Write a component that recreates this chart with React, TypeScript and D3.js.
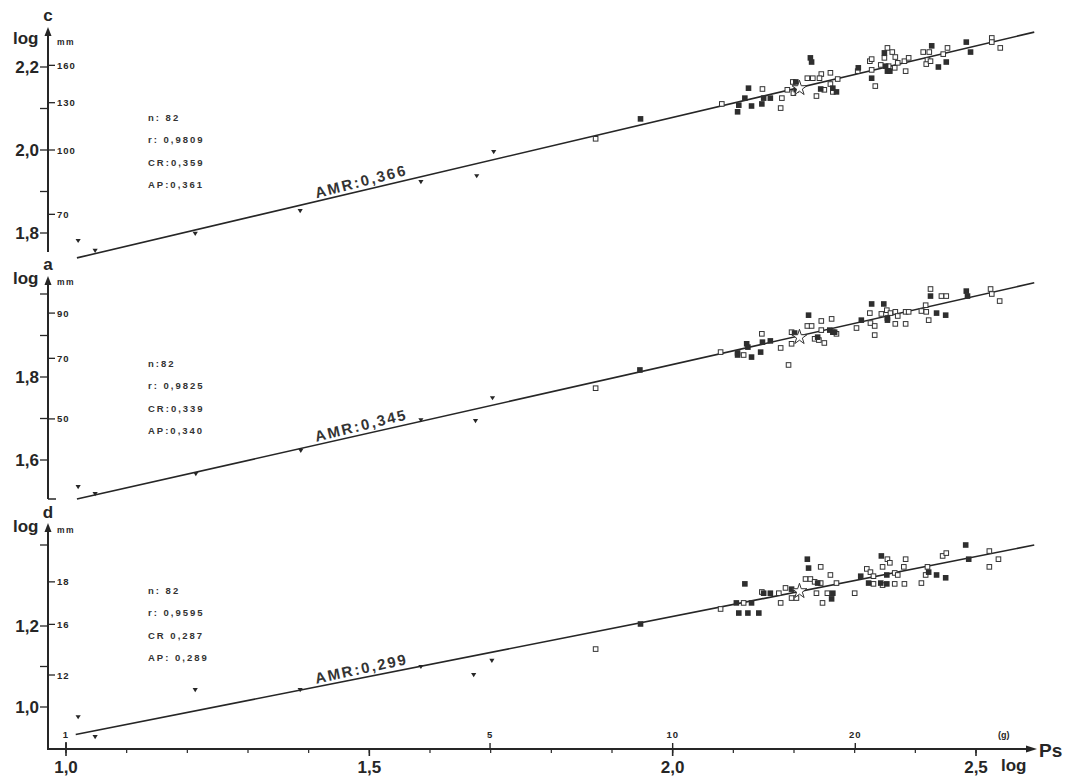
import React, { useEffect, useRef } from "react";
import * as d3 from "d3";

// x = log Ps, y = log of the measure (panels c, a, d)
const openC = [[2.081,2.111],[2.148,2.147],[2.180,2.125],[2.178,2.101],[2.189,2.145],[2.198,2.164],[2.199,2.137],[2.222,2.173],[2.231,2.173],[2.245,2.183],[2.242,2.173],[2.250,2.145],[2.237,2.130],[2.260,2.186],[2.260,2.159],[2.264,2.140],[2.272,2.171],[2.305,2.190],[2.325,2.214],[2.328,2.219],[2.328,2.193],[2.334,2.154],[2.343,2.205],[2.354,2.246],[2.349,2.222],[2.362,2.236],[2.367,2.224],[2.356,2.202],[2.366,2.198],[2.371,2.210],[2.382,2.214],[2.389,2.222],[2.384,2.190],[2.413,2.236],[2.423,2.236],[2.420,2.217],[2.418,2.207],[2.425,2.214],[2.446,2.231],[2.453,2.246],[2.526,2.270],[2.526,2.260],[2.540,2.246],[1.873,2.027]];
const filledC = [[2.109,2.108],[2.107,2.092],[2.119,2.125],[2.125,2.149],[2.130,2.106],[2.147,2.111],[2.150,2.125],[2.161,2.125],[2.203,2.164],[2.204,2.145],[2.227,2.222],[2.229,2.212],[2.244,2.147],[2.264,2.149],[2.270,2.140],[2.306,2.198],[2.328,2.173],[2.349,2.234],[2.351,2.202],[2.354,2.190],[2.358,2.190],[2.427,2.251],[2.438,2.200],[2.451,2.212],[2.484,2.260],[2.491,2.236],[1.947,2.075]];
const trianglesC = [[1.020,1.781],[1.048,1.757],[1.213,1.798],[1.386,1.853],[1.585,1.923],[1.677,1.937],[1.705,1.995]];
const starC = [2.209, 2.149];
const lineC = [[1.018,1.740],[2.596,2.284]];
const statsC = ["n: 82", "r: 0,9809", "CR:0,359", "AP:0,361"];
const amrC = "AMR:0,366";

const openA = [[2.079,1.860],[2.117,1.853],[2.147,1.904],[2.178,1.870],[2.196,1.880],[2.191,1.829],[2.196,1.908],[2.222,1.923],[2.229,1.923],[2.245,1.935],[2.262,1.940],[2.245,1.913],[2.234,1.892],[2.250,1.882],[2.241,1.889],[2.270,1.904],[2.303,1.918],[2.325,1.954],[2.326,1.930],[2.333,1.923],[2.333,1.901],[2.344,1.952],[2.353,1.961],[2.359,1.954],[2.367,1.957],[2.371,1.947],[2.367,1.928],[2.384,1.928],[2.384,1.957],[2.389,1.957],[2.410,1.959],[2.417,1.973],[2.418,1.957],[2.422,1.937],[2.425,2.012],[2.443,1.995],[2.451,1.995],[2.524,2.012],[2.526,2.000],[2.539,1.983],[1.873,1.773]];
const filledA = [[2.107,1.858],[2.107,1.853],[2.122,1.880],[2.124,1.872],[2.130,1.848],[2.145,1.860],[2.148,1.884],[2.161,1.887],[2.201,1.906],[2.224,1.949],[2.239,1.896],[2.259,1.913],[2.264,1.908],[2.267,1.908],[2.311,1.937],[2.328,1.976],[2.348,1.976],[2.354,1.942],[2.354,1.937],[2.435,1.954],[2.450,1.949],[2.425,1.995],[2.484,2.007],[2.486,1.995],[1.946,1.817]];
const trianglesA = [[1.020,1.535],[1.048,1.518],[1.214,1.566],[1.387,1.622],[1.585,1.696],[1.675,1.694],[1.703,1.749]];
const starA = [2.209, 1.896];
const lineA = [[1.018,1.506],[2.596,2.027]];
const statsA = ["n:82", "r: 0,9825", "CR:0,339", "AP:0,340"];
const amrA = "AMR:0,345";

const openD = [[2.079,1.242],[2.117,1.257],[2.147,1.284],[2.175,1.281],[2.178,1.257],[2.186,1.294],[2.196,1.269],[2.204,1.269],[2.244,1.346],[2.219,1.316],[2.227,1.316],[2.234,1.309],[2.244,1.306],[2.237,1.281],[2.260,1.326],[2.255,1.281],[2.247,1.257],[2.270,1.306],[2.300,1.281],[2.320,1.341],[2.326,1.333],[2.331,1.323],[2.331,1.304],[2.346,1.301],[2.366,1.304],[2.382,1.304],[2.354,1.365],[2.358,1.356],[2.346,1.346],[2.366,1.331],[2.371,1.326],[2.384,1.365],[2.381,1.346],[2.410,1.306],[2.417,1.326],[2.420,1.346],[2.445,1.373],[2.451,1.380],[2.522,1.385],[2.522,1.346],[2.537,1.365],[1.873,1.143]];
const filledD = [[2.105,1.257],[2.130,1.257],[2.109,1.232],[2.124,1.232],[2.142,1.232],[2.119,1.304],[2.150,1.281],[2.161,1.281],[2.196,1.291],[2.222,1.365],[2.224,1.343],[2.239,1.306],[2.264,1.281],[2.262,1.267],[2.310,1.323],[2.323,1.306],[2.343,1.306],[2.353,1.304],[2.344,1.373],[2.353,1.326],[2.422,1.333],[2.435,1.326],[2.450,1.319],[2.483,1.400],[2.488,1.365],[1.947,1.205]];
const trianglesD = [[1.020,0.975],[1.048,0.926],[1.213,1.042],[1.386,1.042],[1.585,1.099],[1.672,1.079],[1.702,1.114]];
const starD = [2.209, 1.286];
const lineD = [[1.016,0.932],[2.596,1.400]];
const statsD = ["n: 82", "r: 0,9595", "CR 0,287", "AP: 0,289"];
const amrD = "AMR:0,299";

// y axis ticks: log ticks (left), labelled ones, mm ticks (right) at their log position
const logTicksC = [1.8, 1.9, 2.0, 2.1, 2.2];
const logLabelsC = [1.8, 2.0, 2.2];
const mmC = [[160, 2.204], [130, 2.114], [100, 2.0], [70, 1.845]];
const logTicksA = [1.6, 1.7, 1.8, 1.9, 2.0];
const logLabelsA = [1.6, 1.8];
const mmA = [[90, 1.954], [70, 1.845], [50, 1.699]];
const logTicksD = [1.0, 1.1, 1.2, 1.4];
const logLabelsD = [1.0, 1.2];
const mmD = [[18, 1.309], [16, 1.204], [12, 1.079]];

// x axis
const xMajor = [1.0, 1.5, 2.0, 2.5];
const xMinor = d3.range(10, 26).map((i) => i / 10);
const grams = [1, 5, 10, 20];

const ink = "#262626";
const font = "'Liberation Sans', Arial, sans-serif";
const comma = (v: number) => v.toFixed(1).replace(".", ",");

export default function App() {
  const ref = useRef<SVGSVGElement>(null);

  useEffect(() => {
    const svg = d3.select(ref.current);
    svg.selectAll("*").remove();

    const x = d3.scaleLinear().domain([1, 2.5]).range([66, 976]);
    const axisX = 48;
    const baseY = 749;

    const panels = [
      { key: "c", open: openC, filled: filledC, tri: trianglesC, star: starC, line: lineC, stats: statsC, amr: amrC,
        y: d3.scaleLinear().domain([1.8, 2.2]).range([233, 67]), ticks: logTicksC, labels: logLabelsC, mm: mmC,
        top: 27, bottom: 252, letterY: 21, logY: 44, statsY: 121 },
      { key: "a", open: openA, filled: filledA, tri: trianglesA, star: starA, line: lineA, stats: statsA, amr: amrA,
        y: d3.scaleLinear().domain([1.6, 1.8]).range([460, 377]), ticks: logTicksA, labels: logLabelsA, mm: mmA,
        top: 276, bottom: 499, letterY: 270, logY: 284, statsY: 367 },
      { key: "d", open: openD, filled: filledD, tri: trianglesD, star: starD, line: lineD, stats: statsD, amr: amrD,
        y: d3.scaleLinear().domain([1.0, 1.2]).range([707, 626]), ticks: logTicksD, labels: logLabelsD, mm: mmD,
        top: 523, bottom: baseY, letterY: 518, logY: 532, statsY: 594 },
    ];

    panels.forEach((p) => {
      const g = svg.append("g");
      const y = p.y;

      // y axis with arrow
      g.append("line").attr("x1", axisX).attr("x2", axisX).attr("y1", p.top + 6).attr("y2", p.bottom)
        .attr("stroke", ink).attr("stroke-width", 2);
      g.append("path").attr("d", `M${axisX},${p.top} L${axisX - 3.5},${p.top + 9} L${axisX + 3.5},${p.top + 9} Z`)
        .attr("fill", ink);
      if (p.key === "a") {
        g.append("line").attr("x1", axisX).attr("x2", axisX + 8).attr("y1", p.bottom).attr("y2", p.bottom)
          .attr("stroke", ink).attr("stroke-width", 1.5);
      }

      g.selectAll(".lt").data(p.ticks).enter().append("line")
        .attr("x1", axisX - 8).attr("x2", axisX).attr("y1", (d) => y(d)).attr("y2", (d) => y(d))
        .attr("stroke", ink).attr("stroke-width", 1.3);
      g.selectAll(".ll").data(p.labels).enter().append("text")
        .attr("x", axisX - 9).attr("y", (d) => y(d) + 6).attr("text-anchor", "end")
        .attr("font-family", font).attr("font-weight", "bold").attr("font-size", 17).attr("fill", ink)
        .text((d) => comma(d));
      g.selectAll(".mt").data(p.mm).enter().append("line")
        .attr("x1", axisX).attr("x2", axisX + 7).attr("y1", (d) => y(d[1])).attr("y2", (d) => y(d[1]))
        .attr("stroke", ink).attr("stroke-width", 1.3);
      g.selectAll(".ml").data(p.mm).enter().append("text")
        .attr("x", axisX + 9).attr("y", (d) => y(d[1]) + 3.5)
        .attr("font-family", font).attr("font-weight", "bold").attr("font-size", 9.5)
        .attr("letter-spacing", 1).attr("fill", ink)
        .text((d) => d[0]);

      // titles
      g.append("text").attr("x", axisX).attr("y", p.letterY).attr("text-anchor", "middle")
        .attr("font-family", font).attr("font-weight", "bold").attr("font-size", 17).attr("fill", ink).text(p.key);
      g.append("text").attr("x", 13).attr("y", p.logY)
        .attr("font-family", font).attr("font-weight", "bold").attr("font-size", 17).attr("fill", ink).text("log");
      g.append("text").attr("x", 57).attr("y", p.logY + 1)
        .attr("font-family", font).attr("font-weight", "bold").attr("font-size", 8.5)
        .attr("letter-spacing", 1.5).attr("fill", ink).text("mm");

      // stats
      g.selectAll(".st").data(p.stats).enter().append("text")
        .attr("x", 148).attr("y", (d, i) => p.statsY + i * 22.3)
        .attr("font-family", font).attr("font-weight", "bold").attr("font-size", 9.5)
        .attr("letter-spacing", 2).attr("fill", "#333")
        .text((d) => d);

      // regression line
      const line = d3.line<number[]>().x((d) => x(d[0])).y((d) => y(d[1]));
      g.append("path").attr("d", line(p.line)).attr("fill", "none").attr("stroke", ink).attr("stroke-width", 1.6);

      const [p0, p1] = p.line;
      const ang = (Math.atan2(y(p1[1]) - y(p0[1]), x(p1[0]) - x(p0[0])) * 180) / Math.PI;
      const lx = 1.49;
      const ly = p0[1] + ((p1[1] - p0[1]) * (lx - p0[0])) / (p1[0] - p0[0]);
      g.append("text")
        .attr("transform", `translate(${x(lx)},${y(ly)}) rotate(${ang - 1}) translate(0,-4)`)
        .attr("text-anchor", "middle").attr("font-family", font).attr("font-weight", "bold")
        .attr("font-size", 15).attr("letter-spacing", 2).attr("fill", "#333").text(p.amr);

      // points
      const s = 4.6;
      g.selectAll(".tri").data(p.tri).enter().append("path")
        .attr("d", (d) => {
          const cx = x(d[0]), cy = y(d[1]);
          return `M${cx - 2.6},${cy - 2} L${cx + 2.6},${cy - 2} L${cx},${cy + 2.2} Z`;
        })
        .attr("fill", ink);
      g.selectAll(".op").data(p.open).enter().append("rect")
        .attr("x", (d) => x(d[0]) - s / 2).attr("y", (d) => y(d[1]) - s / 2)
        .attr("width", s).attr("height", s)
        .attr("fill", "white").attr("stroke", "#333").attr("stroke-width", 1);
      g.selectAll(".fi").data(p.filled).enter().append("rect")
        .attr("x", (d) => x(d[0]) - s / 2 - 0.5).attr("y", (d) => y(d[1]) - s / 2 - 0.5)
        .attr("width", s + 1).attr("height", s + 1)
        .attr("fill", "#2e2e2e");
      g.append("path")
        .attr("d", d3.symbol(d3.symbolStar, 70)())
        .attr("transform", `translate(${x(p.star[0])},${y(p.star[1])})`)
        .attr("fill", "white").attr("stroke", "#333").attr("stroke-width", 1);
    });

    // x axis
    const xa = svg.append("g");
    xa.append("line").attr("x1", axisX - 1).attr("x2", 1030).attr("y1", baseY).attr("y2", baseY)
      .attr("stroke", ink).attr("stroke-width", 2);
    xa.append("path").attr("d", `M1037,${baseY} L1026,${baseY - 3.5} L1026,${baseY + 3.5} Z`).attr("fill", ink);
    xa.selectAll(".xm").data(xMinor).enter().append("line")
      .attr("x1", (d) => x(d)).attr("x2", (d) => x(d)).attr("y1", baseY).attr("y2", baseY + 4)
      .attr("stroke", ink).attr("stroke-width", 1.2);
    xa.selectAll(".xM").data(xMajor).enter().append("line")
      .attr("x1", (d) => x(d)).attr("x2", (d) => x(d)).attr("y1", (d) => (d === 1 ? baseY - 7 : baseY))
      .attr("y2", baseY + 7).attr("stroke", ink).attr("stroke-width", 1.6);
    xa.selectAll(".xl").data(xMajor).enter().append("text")
      .attr("x", (d) => x(d)).attr("y", 773).attr("text-anchor", "middle")
      .attr("font-family", font).attr("font-weight", "bold").attr("font-size", 17).attr("fill", ink)
      .text((d) => comma(d));
    xa.selectAll(".gt").data(grams).enter().append("line")
      .attr("x1", (d) => x(1 + Math.log10(d))).attr("x2", (d) => x(1 + Math.log10(d)))
      .attr("y1", baseY - 6).attr("y2", baseY).attr("stroke", ink).attr("stroke-width", 1.4);
    xa.selectAll(".gl").data(grams).enter().append("text")
      .attr("x", (d) => x(1 + Math.log10(d))).attr("y", 738).attr("text-anchor", "middle")
      .attr("font-family", font).attr("font-weight", "bold").attr("font-size", 9.5)
      .attr("letter-spacing", 1).attr("fill", ink)
      .text((d) => d);
    xa.append("text").attr("x", 998).attr("y", 738)
      .attr("font-family", font).attr("font-weight", "bold").attr("font-size", 9).attr("fill", ink).text("(g)");
    xa.append("text").attr("x", 1039).attr("y", 757)
      .attr("font-family", font).attr("font-weight", "bold").attr("font-size", 19).attr("fill", ink).text("Ps");
    xa.append("text").attr("x", 1001).attr("y", 771)
      .attr("font-family", font).attr("font-weight", "bold").attr("font-size", 17).attr("fill", ink).text("log");
  }, []);

  return (
    <div>
      <style>{`body{margin:0;background:#fff}`}</style>
      <svg ref={ref} width={1065} height={779} style={{ display: "block", background: "#fff" }} />
    </div>
  );
}
